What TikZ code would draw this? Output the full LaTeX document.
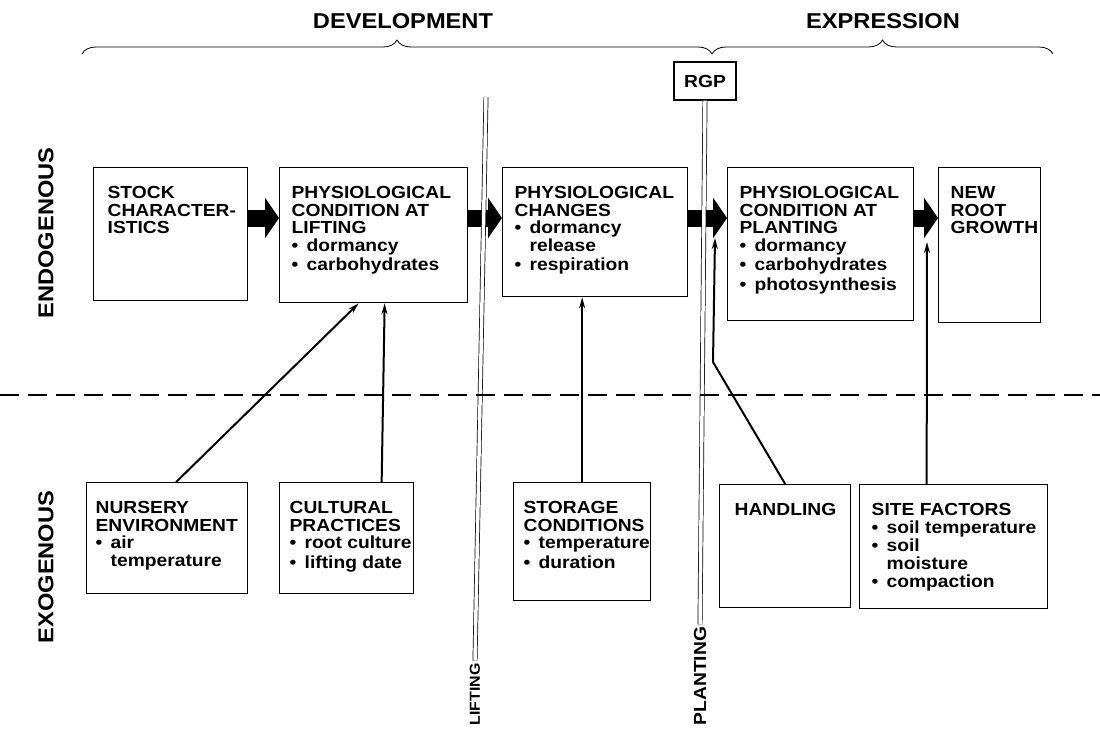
\documentclass[tikz,border=0pt]{standalone}
\usepackage{fontspec}
\setmainfont{Liberation Sans}[FakeStretch=1.1]
\usetikzlibrary{arrows.meta, decorations.pathreplacing}

\newcommand{\cell}[3]{\parbox[c][#2][t]{#1}{\raggedright #3}}
\newcommand{\bul}[1]{\mbox{\makebox[15pt][l]{\textbullet}#1}}
\newcommand{\hang}{\hspace*{15pt}}

\begin{document}
\begin{tikzpicture}[x = 1pt, y = -1pt, line width = 1.3pt,
    box/.style = {draw, anchor = north west, inner xsep = 12pt, inner ysep = 19pt,
                  font = \bfseries\fontsize{17.5}{17.5}\selectfont},
    heading/.style = {font = \bfseries\fontsize{21.5}{24}\selectfont},
    small/.style = {font = \bfseries\fontsize{17.5}{18}\selectfont},
    fat/.style = {line width = 17pt, -{Triangle[length = 14pt, width = 40pt]}},
    feed/.style = {line width = 2pt, -{Stealth[length = 11pt, width = 6pt]}},
    rail/.style = {double = white, double distance = 3.5pt, line width = 0.7pt},
    span/.style = {decorate, decoration = {brace, amplitude = 14pt}, line width = 0.8pt}]
    \useasboundingbox (0,0) rectangle (1100,729);

    % phases
    \node [heading] (dev) at (403,21) {DEVELOPMENT};
    \node [heading] (expr) at (883,21) {EXPRESSION};
    \coordinate (b1) at (82,54);
    \coordinate (b2) at (712,54);
    \coordinate (b3) at (1053,54);
    \draw [span] (b1) -- (b2);
    \draw [span] (b2) -- (b3);

    \node [heading, rotate = 90] (endo) at (46,233) {ENDOGENOUS};
    \node [heading, rotate = 90] (exo) at (46,567) {EXOGENOUS};

    % endogenous row
    \node [box, inner xsep = 14pt] (stock) at (93,167)
        {\cell{126pt}{95pt}{STOCK\\\mbox{CHARACTER-}\\ISTICS}};
    \node [box] (lifting) at (279,167)
        {\cell{164pt}{97pt}{PHYSIOLOGICAL\\\mbox{CONDITION AT}\\LIFTING\\
         \bul{dormancy}\\[2pt]\bul{carbohydrates}}};
    \node [box] (changes) at (502,167)
        {\cell{161pt}{91pt}{PHYSIOLOGICAL\\CHANGES\\
         \bul{dormancy}\\\hang release\\[2pt]\bul{respiration}}};
    \node [box] (planting) at (727,167)
        {\cell{162pt}{115pt}{PHYSIOLOGICAL\\\mbox{CONDITION AT}\\PLANTING\\
         \bul{dormancy}\\[2pt]\bul{carbohydrates}\\[2pt]\bul{photosynthesis}}};
    \node [box] (newroot) at (938,167)
        {\cell{78pt}{117pt}{NEW\\ROOT\\GROWTH}};

    % exogenous row
    \node [box, inner xsep = 9pt] (nursery) at (86,482)
        {\cell{143pt}{73pt}{NURSERY\\ENVIRONMENT\\\bul{air}\\\hang temperature}};
    \node [box, inner xsep = 10pt] (cultural) at (279,482)
        {\cell{114pt}{73pt}{CULTURAL\\PRACTICES\\
         \bul{root culture}\\[2pt]\bul{lifting date}}};
    \node [box, inner xsep = 10pt] (storage) at (513,482)
        {\cell{117pt}{80pt}{STORAGE\\CONDITIONS\\
         \bul{temperature}\\[2pt]\bul{duration}}};
    \node [box, inner xsep = 15pt] (handling) at (719,484)
        {\cell{101pt}{85pt}{HANDLING}};
    \node [box] (site) at (859,484)
        {\cell{164pt}{86pt}{\mbox{SITE FACTORS}\\\bul{soil temperature}\\[1pt]
         \bul{soil}\\\hang moisture\\[1pt]\bul{compaction}}};

    % flow
    \coordinate (flow) at (0,218);
    \draw [fat] (stock.east |- flow) -- (lifting.west |- flow);
    \draw [fat] (lifting.east |- flow) -- (changes.west |- flow);
    \draw [fat] (changes.east |- flow) -- (planting.west |- flow);
    \draw [fat] (planting.east |- flow) -- (newroot.west |- flow);

    % lifting and planting
    \node [draw, minimum width = 62pt, minimum height = 38pt, small] (rgp) at (705,81) {RGP};
    \node [font = \bfseries\fontsize{14.5}{16}\selectfont, rotate = 90, anchor = west,
           inner sep = 2pt] (liftlbl) at (475,728) {LIFTING};
    \node [small, rotate = 90, anchor = west, inner sep = 2pt] (plantlbl) at (700,728) {PLANTING};
    \coordinate (lifttop) at (486,97);
    \draw [rail] (lifttop) -- (liftlbl.east);
    \draw [rail] (rgp.south) -- (plantlbl.east);

    \coordinate (dl) at (0,395);
    \coordinate (dr) at (1100,395);
    \draw [line width = 2.5pt, dash pattern = on 19pt off 9pt] (dl) -- (dr);

    % influences
    \draw [feed] ([xshift = 9pt]nursery.north) -- ([xshift = -15pt]lifting.south);
    \draw [feed] ([xshift = 35pt]cultural.north) -- ([xshift = 11pt]lifting.south);
    \draw [feed] (storage.north) -- (storage.north |- changes.south);
    \coordinate (hbend) at (713,362);
    \coordinate (hend) at (715,238);
    \draw [feed] (handling.north) -- (hbend) -- (hend);
    \coordinate (send) at (927,242);
    \draw [feed] ([xshift = -27pt]site.north) -- (send);
\end{tikzpicture}
\end{document}
